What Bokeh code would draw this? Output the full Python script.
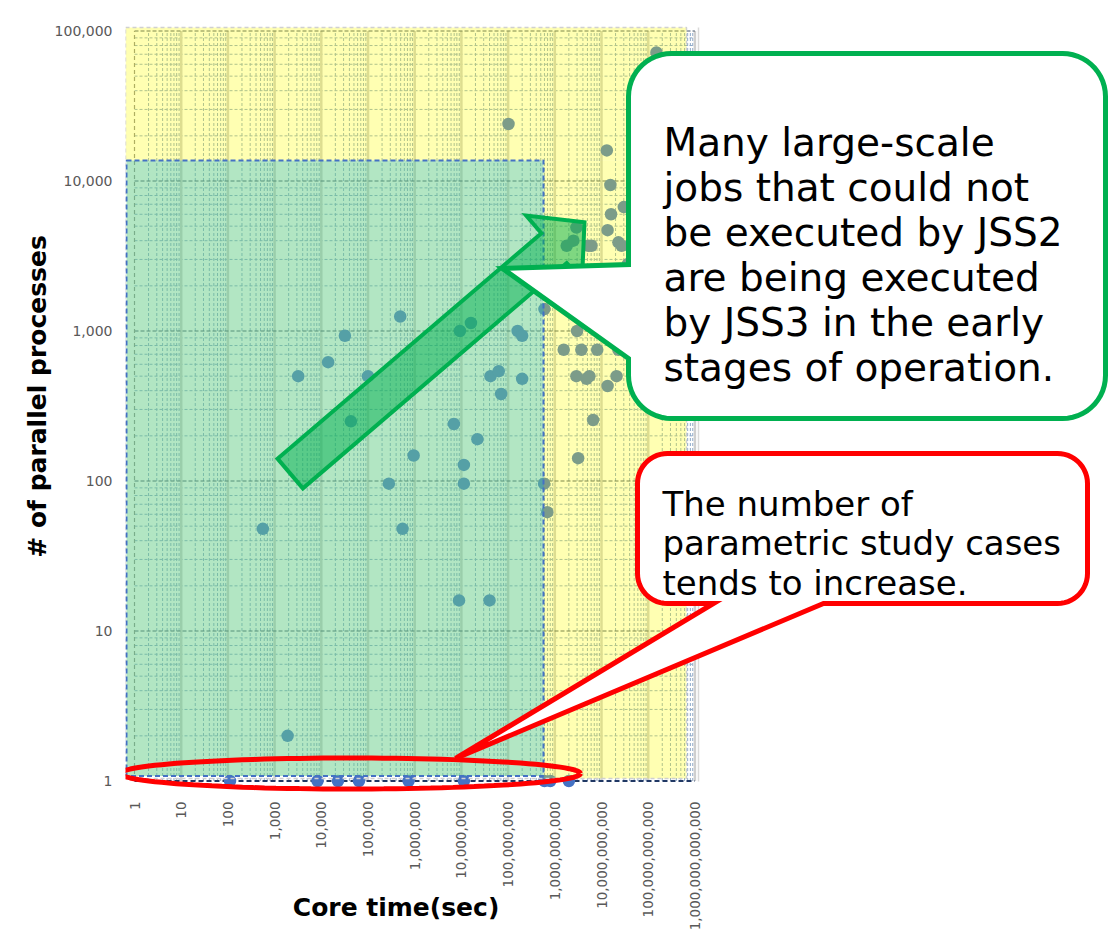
import numpy as np
from bokeh.plotting import figure
from bokeh.models import FixedTicker, NumeralTickFormatter, Range1d
from bokeh.core.properties import value
from bokeh.embed import file_html
from bokeh.resources import INLINE

# ---------------- data ----------------
core_time = [560, 1900, 3200, 14000, 32000, 43000, 100000, 280000, 490000, 550000,
             950000, 6.9e6, 9.3e6, 8.9e6, 1.13e7, 1.13e7, 1.6e7, 2.2e7, 4.0e7, 4.2e7,
             6.3e7, 7.1e7, 1.02e8, 1.6e8, 2.0e8, 2.0e8, 6.0e8, 5.9e8, 6.9e8, 1.5e11,
             1.3e10, 1.55e10, 1.6e10, 3.0e10, 1.35e10, 2.3e10, 2.7e10, 1.8e9, 2.5e9, 5.2e9,
             6.1e9, 3.7e10, 3.0e9, 1.55e9, 3.7e9, 8.1e9, 2.3e10, 2.9e9, 4.8e9, 5.5e9,
             1.35e10, 2.1e10, 6.6e9, 3.16e9, 2.9e9]
procs = [48, 2, 500, 620, 930, 250, 500, 96, 1250, 48,
         148, 240, 1000, 16, 96, 128, 1130, 190, 16, 500,
         540, 380, 24000, 1000, 930, 480, 1400, 96, 62, 72000,
         16000, 9400, 6000, 6700, 4700, 3900, 3700, 3700, 4000, 3700,
         3700, 2800, 1000, 750, 750, 750, 750, 500, 480, 500,
         430, 500, 255, 142, 4900]
single_core_time = [111, 8300, 22700, 64000, 740000, 1.13e7, 6.0e8, 8.0e8, 2.0e9]
single_procs = [1, 1, 1, 1, 1, 1, 1, 1, 1]

x_ticks = [1, 10, 100, 1000, 10**4, 10**5, 10**6, 10**7, 10**8, 10**9, 10**10, 10**11, 10**12]
y_ticks = [1, 10, 100, 1000, 10**4, 10**5]
x_minor = [k * 10**n for n in range(12) for k in range(2, 10)]
y_minor = [k * 10**n for n in range(5) for k in range(2, 10)]

x_title = "Core time(sec)"
y_title = "# of parallel processes"
green_lines = ["Many large-scale", "jobs that could not", "be executed by JSS2",
               "are being executed", "by JSS3 in the early", "stages of operation."]
red_lines = ["The number of", "parametric study cases", "tends to increase."]

# ---------------- layout (screen px <-> data) ----------------
X0, XD = 134.0, 46.7     # px of x=1, px per decade
Y0, YD = 780.5, 150.0    # px of y=1, px per decade
FL, FR, FT, FB = 125, 1110, 0, 792


def fx(px):
    return 10 ** ((px - X0) / XD)


def fy(py):
    return 10 ** ((Y0 - py) / YD)


def to_data(pts):
    return [fx(a) for a, b in pts], [fy(b) for a, b in pts]


p = figure(x_axis_type="log", y_axis_type="log",
           x_range=Range1d(fx(FL), fx(FR)), y_range=Range1d(fy(FB), fy(FT)),
           frame_width=FR - FL, frame_height=FB - FT,
           min_border_left=FL, min_border_right=0, min_border_top=0, min_border_bottom=144,
           output_backend="svg", toolbar_location=None,
           background_fill_color="white", border_fill_color="white")
p.outline_line_color = None

xt = FixedTicker(ticks=x_ticks, minor_ticks=x_minor)
yt = FixedTicker(ticks=y_ticks, minor_ticks=y_minor)
p.xaxis.ticker = xt
p.yaxis.ticker = yt
p.xgrid.visible = False
p.ygrid.visible = False

for ax in (p.xaxis, p.yaxis):
    ax.formatter = NumeralTickFormatter(format="0,0")
    ax.axis_line_color = None
    ax.major_tick_line_color = None
    ax.minor_tick_line_color = None
    ax.major_label_text_font = "DejaVu Sans"
    ax.major_label_text_font_size = "14px"
    ax.major_label_text_color = "#595959"

p.xaxis.major_label_text_font_size = "13.5px"
p.xaxis.major_label_orientation = np.pi / 2
p.xaxis.major_label_standoff = 3
# trailing no-break spaces shift the centred title left, under the plot area
p.xaxis.axis_label = x_title + "\u00a0" * 51
p.xaxis.axis_label_text_font = "DejaVu Sans"
p.xaxis.axis_label_text_font_style = "bold"
p.xaxis.axis_label_text_font_size = "25px"
p.xaxis.axis_label_text_color = "black"
p.xaxis.axis_label_standoff = -40

p.yaxis.major_label_standoff = 7
p.yaxis.axis_label = y_title
p.yaxis.axis_label_text_font = "DejaVu Sans"
p.yaxis.axis_label_text_font_style = "bold"
p.yaxis.axis_label_text_font_size = "25px"
p.yaxis.axis_label_text_color = "black"
p.yaxis.axis_label_standoff = 0

# ---------------- grid lines (only inside the plot area) ----------------
nxm, nym = len(x_minor), len(y_minor)
p.segment(x0=x_minor, y0=[y_ticks[0]] * nxm, x1=x_minor, y1=[y_ticks[-1]] * nxm,
          line_color="#8EA9C8", line_width=1, line_dash="3 2")
p.segment(x0=[x_ticks[0]] * nym, y0=y_minor, x1=[x_ticks[-1]] * nym, y1=y_minor,
          line_color="#8EA9C8", line_width=1, line_dash="3 2")
p.segment(x0=x_ticks[1:], y0=[y_ticks[0]] * (len(x_ticks) - 1), x1=x_ticks[1:],
          y1=[y_ticks[-1]] * (len(x_ticks) - 1), line_color="#CFCFCF", line_width=2.5)
p.segment(x0=[x_ticks[0]] * (len(y_ticks) - 1), y0=y_ticks[1:], x1=[x_ticks[-1]] * (len(y_ticks) - 1),
          y1=y_ticks[1:], line_color="#44546A", line_width=1, line_dash="4 2")
p.line([x_ticks[0], x_ticks[0]], [y_ticks[0], y_ticks[-1]], line_color="#8C8C8C",
       line_width=1.2, line_dash="4 3")
p.line([fx(698), fx(698)], [fy(27), fy(781)], line_color="#D9D9D9", line_width=1.5)
p.line([x_ticks[0], x_ticks[-1]], [y_ticks[0], y_ticks[0]], line_color="#203864",
       line_width=2, line_dash="5 3")

# ---------------- data points ----------------
p.scatter(core_time, procs, size=12.5, fill_color="#4472C4", line_color=None)
p.scatter(single_core_time, single_procs, size=12.5, fill_color="#4472C4", line_color=None)

# ---------------- shaded regions ----------------
p.quad(left=fx(125), right=fx(686), bottom=fy(160), top=fy(27),
       fill_color="#FFFF00", fill_alpha=0.3, line_color=None)
p.quad(left=fx(543), right=fx(686), bottom=fy(778), top=fy(160),
       fill_color="#FFFF00", fill_alpha=0.3, line_color=None)
p.quad(left=fx(125), right=fx(686), bottom=fy(778), top=fy(27), fill_alpha=0,
       line_color="#D0D0D0", line_width=1.5, line_dash="4 3")
p.quad(left=fx(126), right=fx(543), bottom=fy(775.5), top=fy(160),
       fill_color="#65CD87", fill_alpha=0.5, line_color="#4472C4", line_width=2, line_dash="5 3")

# ---------------- block arrow ----------------
T = (289.7, 473.0)
ang = np.deg2rad(40.5)
u = (np.cos(ang), -np.sin(ang))
n = (np.sin(ang), np.cos(ang))


def P(al, pe):
    return (T[0] + al * u[0] + pe * n[0], T[1] + al * u[1] + pe * n[1])


arrow = [P(0, -19.5), P(347, -19.5), P(347, -43), P(387, 0), P(347, 43), P(347, 19.5), P(0, 19.5)]
ax_, ay_ = to_data(arrow)
p.patch(ax_, ay_, fill_color="#00B050", fill_alpha=0.5, line_color="#00B050", line_width=4,
        line_join="miter")


def rounded_box(l, t, r, b, rad, tail, side):
    pts = []

    def arc(cx, cy, a0, a1):
        for a in np.linspace(a0, a1, 14):
            pts.append((cx + rad * np.cos(a), cy + rad * np.sin(a)))

    arc(l + rad, t + rad, np.pi, 1.5 * np.pi)
    arc(r - rad, t + rad, 1.5 * np.pi, 2 * np.pi)
    arc(r - rad, b - rad, 0, 0.5 * np.pi)
    if side == "bottom":
        pts.extend(tail)
    arc(l + rad, b - rad, 0.5 * np.pi, np.pi)
    if side == "left":
        pts.extend(tail)
    return pts


# green callout
gbox = rounded_box(628, 53, 1105, 418, 43, [(628, 358), (502, 268), (628, 264)], "left")
gx, gy = to_data(gbox)
p.patch(gx, gy, fill_color="white", line_color="#00B050", line_width=5, line_join="miter")
p.text(x=[fx(663)] * len(green_lines), y=[fy(142 + 45 * i) for i in range(len(green_lines))],
       text=green_lines, text_font=value("DejaVu Sans"), text_font_size="39px",
       text_baseline="alphabetic", text_align="left", text_color="black")

# red callout
rbox = rounded_box(637, 453, 1087, 603, 30, [(823, 603), (455, 758), (713, 603)], "bottom")
rx, ry = to_data(rbox)
p.patch(rx, ry, fill_color="white", line_color="#FF0000", line_width=5, line_join="miter")
p.text(x=[fx(662)] * len(red_lines), y=[fy(503 + 39.5 * i) for i in range(len(red_lines))],
       text=red_lines, text_font=value("DejaVu Sans"), text_font_size="34px",
       text_baseline="alphabetic", text_align="left", text_color="black")

# red ellipse
th = np.linspace(0, 2 * np.pi, 120)
ell = [(350 + 230 * np.cos(a), 773 + 15.5 * np.sin(a)) for a in th]
ex, ey = to_data(ell)
p.line(ex, ey, line_color="#FF0000", line_width=5)

open("out.html", "w").write(file_html(p, INLINE))
